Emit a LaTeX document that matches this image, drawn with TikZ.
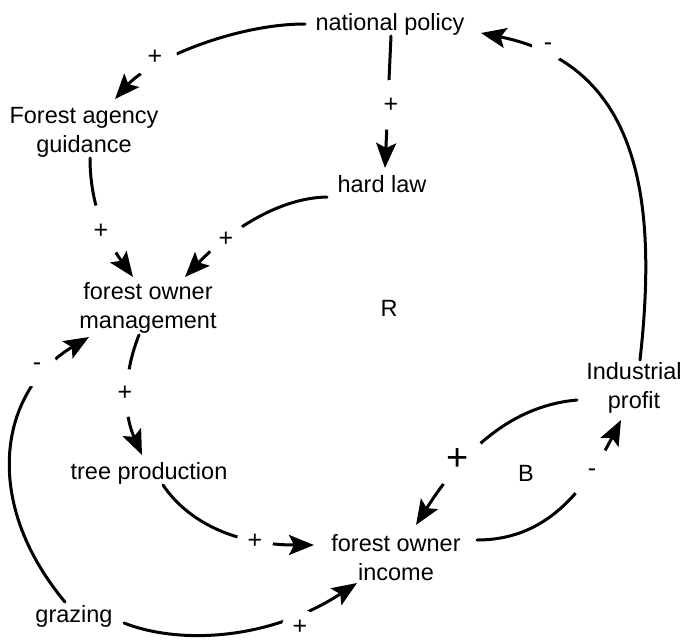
\documentclass[tikz,border=0pt]{standalone}
\usepackage{fontspec}
\setmainfont{Liberation Sans}
\usetikzlibrary{arrows.meta,calc}
\begin{document}
\begin{tikzpicture}[x=1pt,y=-1pt,
  every node/.style={font=\fontsize{23.5}{29}\selectfont, inner sep=0pt},
  var/.style={align=center},
  link/.style={line width=3pt, line cap=round,
    -{Stealth[length=25pt,width=20pt,inset=5pt]}},
  pol/.style={circle, fill=white, font=\fontsize{25}{25}\selectfont},
  bigpol/.style={circle, fill=white, font=\fontsize{38}{38}\selectfont},
]
\useasboundingbox (0,0) rectangle (683,641);

% variables
\node[var] (np)  at (390,24)  {national policy};
\node[var] (fag) at (84,132)  {Forest agency\\guidance};
\node[var] (hl)  at (382,184) {hard law};
\node[var] (fom) at (148,308) {forest owner\\management};
\node[var] (ip)  at (634,388) {Industrial\\profit};
\node[var] (tp)  at (149,473) {tree production};
\node[var] (foi) at (396,558) {forest owner\\income};
\node[var] (gr)  at (74,616)  {grazing};

% loop markers
\node (R) at (389,308) {R};
\node (B) at (526,473) {B};

% causal links
\draw[link] ($(np)+(-85,0)$) .. controls (235,24) and (150,60) .. ($(fag)+(31,-33)$);
\draw[link] ($(np)+(1,12)$) -- ($(hl)+(3,-16)$);
\draw[link] ($(ip)+(6,-28)$) .. controls (658,200) and (640,65) .. ($(np)+(91,9)$);
\draw[link] ($(fag)+(6,26)$) .. controls (90,210) and (110,245) .. ($(fom)+(-15,-31)$);
\draw[link] ($(hl)+(-55,13)$) .. controls (275,198) and (225,235) .. ($(fom)+(37,-31)$);
\draw[link] ($(gr)+(-9,-14)$) .. controls (-20,500) and (0,390) .. ($(fom)+(-59,29)$);
\draw[link] ($(fom)+(-9,27)$) .. controls (125,370) and (122,410) .. ($(tp)+(-7,-18)$);
\draw[link] ($(tp)+(14,12)$) .. controls (190,525) and (240,545) .. ($(foi)+(-82,-13)$);
\draw[link] ($(ip)+(-57,12)$) .. controls (520,405) and (470,440) .. ($(foi)+(20,-33)$);
\draw[link] ($(foi)+(81,-18)$) .. controls (540,540) and (580,500) .. ($(ip)+(-13,32)$);
\draw[link] ($(gr)+(50,7)$) .. controls (180,645) and (270,640) .. ($(foi)+(-39,25)$);

% polarities
\node[pol, minimum size=44pt] (p1)  at (155,57)  {+};
\node[pol, minimum size=50pt] (p2)  at (391,105) {+};
\node[pol, minimum size=32pt] (p3)  at (548,47)  {-};
\node[pol, minimum size=52pt] (p4)  at (101,231) {+};
\node[pol, minimum size=40pt] (p5)  at (226,239) {+};
\node[pol, minimum size=40pt] (p6)  at (37,367)  {-};
\node[pol, minimum size=48pt] (p7)  at (125,393) {+};
\node[pol, minimum size=36pt] (p8)  at (255,541) {+};
\node[bigpol, minimum size=56pt] (p9) at (458,460) {+};
\node[pol, minimum size=52pt] (p10) at (592,473) {-};
\node[pol, minimum size=36pt] (p11) at (300,627) {+};
\end{tikzpicture}
\end{document}
